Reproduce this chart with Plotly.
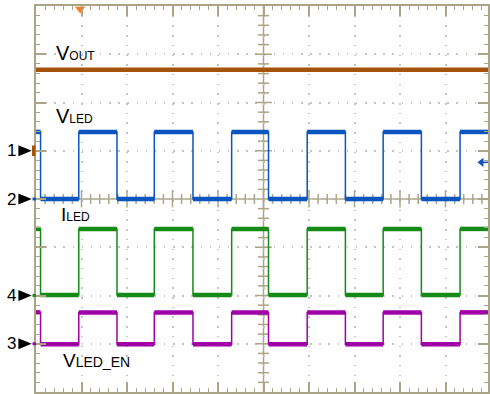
import plotly.graph_objects as go

# ---- data (in scope divisions; x: 0..10 horizontal, y: -4..4 vertical) ----
edge_times = [0.10, 0.94, 1.78, 2.60, 3.45, 4.30, 5.11, 5.96, 6.80, 7.63, 8.47, 9.32]  # fall, rise, fall, ...
vout_level = 2.68
vled_levels = [1.39, 0.0]      # high, low
iled_levels = [-0.62, -1.99]
vled_en_levels = [-2.35, -3.01]
channel_refs = {"1": 1.0, "2": 0.0, "3": -3.0, "4": -2.0}
trigger_x = 0.97
trigger_level = 0.76

X_END = 9.934
PLOT_W = 454.0
FONT = "Arial, Liberation Sans, sans-serif"
OLIVE = "#aaa587"
C_OUT, C_LED, C_I, C_EN = "#A5520B", "#0A55C0", "#168A16", "#A000A8"


def step_wave(edges, hi, lo):
    xs, ys = [0.0], [hi]
    lvl = hi
    for e in edges:
        xs.append(e); ys.append(lvl)
        lvl = lo if lvl == hi else hi
        xs.append(e); ys.append(lvl)
    xs.append(X_END); ys.append(lvl)
    return xs, ys


def flats(edges, hi, lo):
    bounds = [0.0] + edges + [X_END]
    xs, ys = [], []
    lvl = hi
    for a, b in zip(bounds[:-1], bounds[1:]):
        xs += [a, b, None]; ys += [lvl, lvl, None]
        lvl = lo if lvl == hi else hi
    return xs, ys


def px_to_paper(dx):
    return dx / PLOT_W


fig = go.Figure()

# centre cross-hair ticks
minor_x = [k * 0.2 for k in range(1, 50) if k % 5]
major_x = [k * 0.2 for k in range(1, 50) if k % 5 == 0]
minor_y = [k * 0.2 for k in range(-19, 20) if k % 5]
major_y = [k * 0.2 for k in range(-19, 20) if k % 5 == 0 and k != 0]
for xs, sz in ((minor_x, 7), (major_x, 12)):
    fig.add_trace(go.Scatter(x=xs, y=[0] * len(xs), mode="markers", hoverinfo="skip",
                             marker=dict(symbol="line-ns", size=sz, line=dict(color=OLIVE, width=1.5))))
for ys, sz in ((minor_y, 8), (major_y, 12)):
    fig.add_trace(go.Scatter(x=[5] * len(ys), y=ys, mode="markers", hoverinfo="skip",
                             marker=dict(symbol="line-ew", size=sz, line=dict(color=OLIVE, width=1.5))))

# VOUT
fig.add_trace(go.Scatter(x=[0, X_END], y=[vout_level, vout_level], mode="lines",
                         line=dict(color=C_OUT, width=4.5), hoverinfo="skip"))

for (hi, lo), col in ((vled_levels, C_LED), (iled_levels, C_I), (vled_en_levels, C_EN)):
    xs, ys = step_wave(edge_times, hi, lo)
    fig.add_trace(go.Scatter(x=xs, y=ys, mode="lines", line=dict(color=col, width=1.5), hoverinfo="skip"))
    fx, fy = flats(edge_times, hi, lo)
    fig.add_trace(go.Scatter(x=fx, y=fy, mode="lines", line=dict(color=col, width=4.5),
                             connectgaps=False, hoverinfo="skip"))

# channel reference markers on the left
ref_cols = {"1": C_OUT, "2": C_LED, "3": C_EN, "4": C_I}
half_h = 5.5 / 48.5
for ch, lvl in channel_refs.items():
    xa, xb = px_to_paper(-17.7), px_to_paper(-4.3)
    fig.add_shape(type="path", xref="paper", yref="y",
                  path=f"M{xa},{lvl + half_h} L{xb},{lvl} L{xa},{lvl - half_h} Z",
                  fillcolor="black", line=dict(width=0))
    if ch == "1":
        fig.add_shape(type="rect", xref="paper", yref="y", x0=px_to_paper(-4), x1=px_to_paper(-0.5),
                      y0=lvl - 0.11, y1=lvl + 0.11, fillcolor=ref_cols[ch], line=dict(width=0))
    else:
        fig.add_shape(type="rect", xref="paper", yref="y", x0=px_to_paper(-3.5), x1=px_to_paper(0),
                      y0=lvl - 0.03, y1=lvl + 0.03, fillcolor=ref_cols[ch], line=dict(width=0))
    fig.add_annotation(x=px_to_paper(-25), xref="paper", y=lvl, yref="y", text=ch, showarrow=False,
                       xanchor="center", yanchor="middle", font=dict(family=FONT, size=17, color="black"))

# trigger position marker (top) and trigger level arrow (right)
fig.add_trace(go.Scatter(x=[trigger_x], y=[3.94], mode="markers", cliponaxis=False, hoverinfo="skip",
                         marker=dict(symbol="triangle-down", size=9, color="#FF7A22")))
fig.add_trace(go.Scatter(x=[9.79, X_END], y=[trigger_level, trigger_level], mode="lines",
                         line=dict(color=C_LED, width=1.5), hoverinfo="skip", cliponaxis=False))
fig.add_trace(go.Scatter(x=[9.79], y=[trigger_level], mode="markers", hoverinfo="skip", cliponaxis=False,
                         marker=dict(symbol="triangle-left", size=8, color=C_LED)))

# labels
labels = [
    (0.40, 3.02, "V<span style='font-size:12px'>OUT</span>", 20),
    (0.40, 1.73, "V<span style='font-size:12px'>LED</span>", 20),
    (0.50, -0.32, "I<span style='font-size:12px'>LED</span>", 19),
    (0.54, -3.35, "V<span style='font-size:14px'>LED_EN</span>", 19),
]
for x, y, t, s in labels:
    fig.add_annotation(x=x, y=y, text=t, showarrow=False, xanchor="left", yanchor="middle",
                       font=dict(family=FONT, size=s, color="black"))

# centre lines
fig.add_shape(type="line", x0=0, x1=X_END, y0=0, y1=0, line=dict(color=OLIVE, width=1.5), layer="below")
fig.add_shape(type="line", x0=5, x1=5, y0=-4, y1=4, line=dict(color=OLIVE, width=1.5), layer="below")

fig.update_layout(
    width=490, height=394,
    margin=dict(l=36, r=0, t=6, b=0),
    paper_bgcolor="white", plot_bgcolor="white",
    showlegend=False,
    xaxis=dict(range=[0, X_END], side="top", showticklabels=False, zeroline=False,
               showline=True, linecolor=OLIVE, linewidth=1.5, mirror="ticks",
               ticks="inside", ticklen=10, tickwidth=1.5, tickcolor=OLIVE, tick0=0, dtick=1,
               showgrid=True, gridcolor="#c4c4c4", gridwidth=1.5, griddash="1.5px,8.2px",
               minor=dict(ticks="inside", ticklen=4, tickcolor=OLIVE, tickwidth=1.2, tick0=0, dtick=0.2,
                          showgrid=False),
               fixedrange=True),
    yaxis=dict(range=[-4, 4], showticklabels=False, zeroline=False,
               showline=True, linecolor=OLIVE, linewidth=1.5, mirror="ticks",
               ticks="inside", ticklen=10, tickwidth=1.5, tickcolor=OLIVE, tick0=0, dtick=1,
               showgrid=True, gridcolor="#c4c4c4", gridwidth=1.5, griddash="1.5px,7.64px",
               minor=dict(ticks="inside", ticklen=4, tickcolor=OLIVE, tickwidth=1.2, tick0=0, dtick=0.2,
                          showgrid=False),
               fixedrange=True),
)

fig.write_html("out.html", config={"displayModeBar": False},
               post_script="document.body.style.margin='0';document.body.style.overflow='hidden';")
